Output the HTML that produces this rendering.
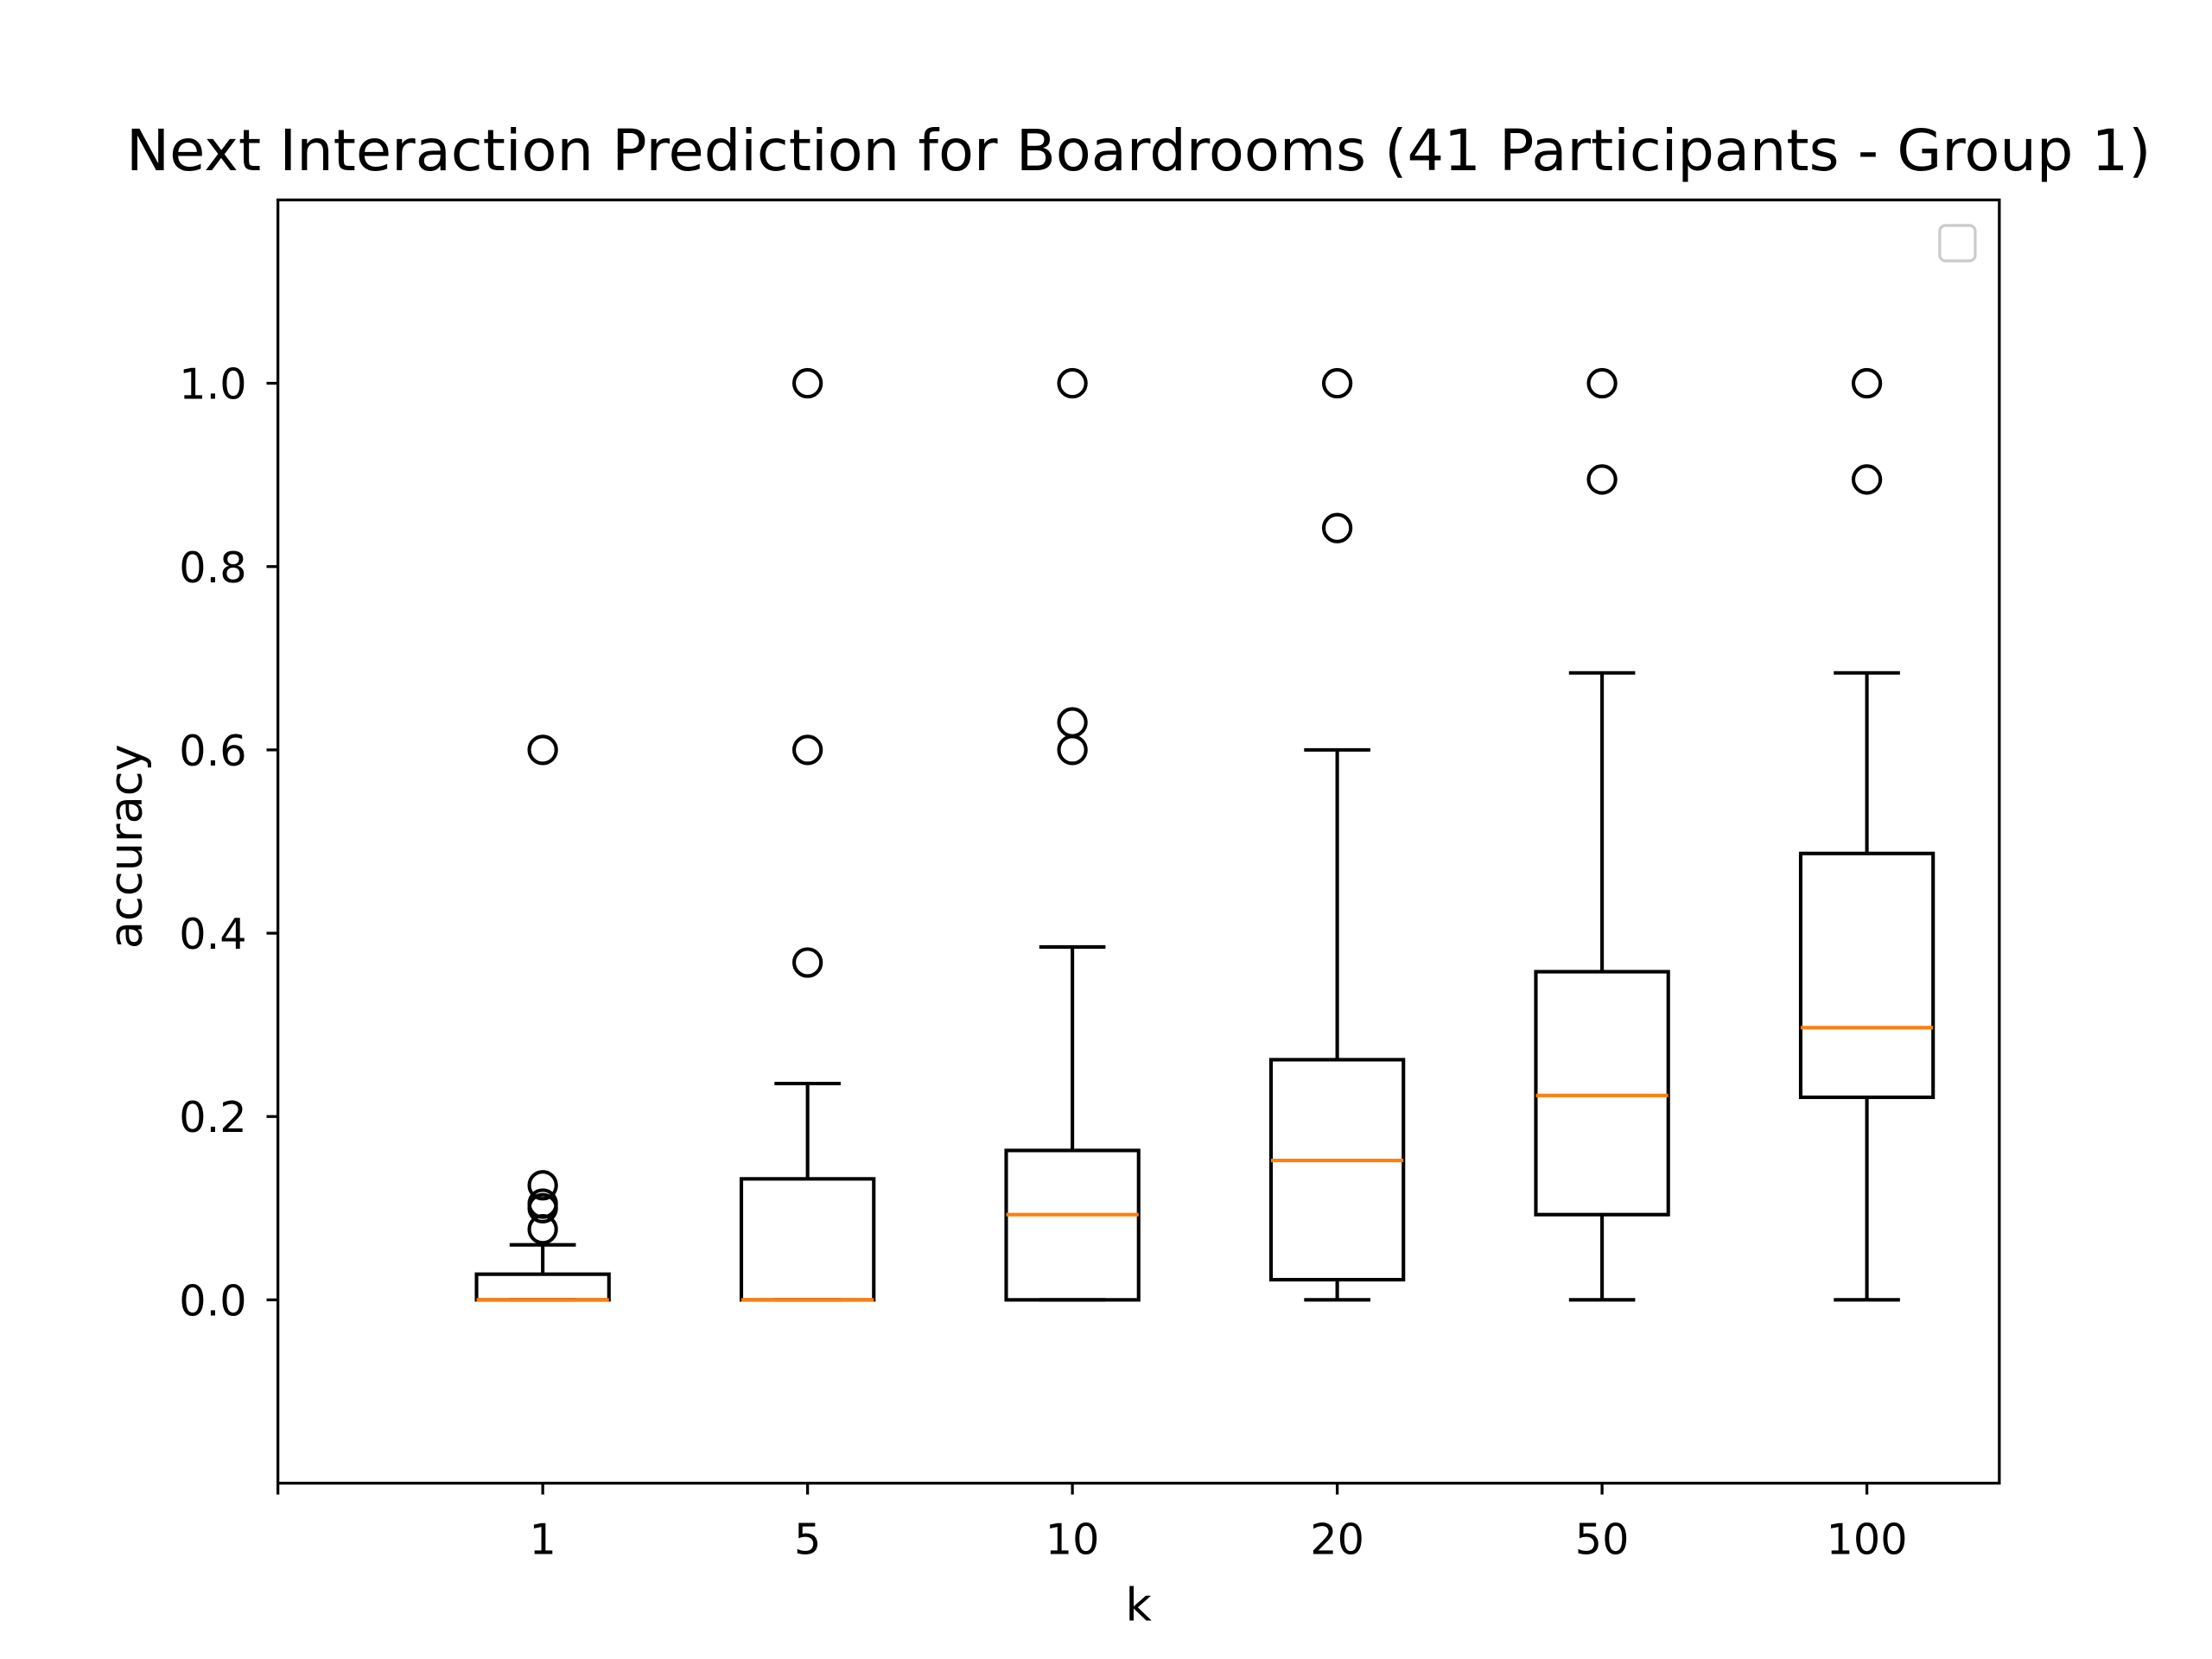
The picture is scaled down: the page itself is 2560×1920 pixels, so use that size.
<!DOCTYPE html>
<html><head><meta charset="utf-8"><style>html,body{margin:0;padding:0;background:#fff}svg{display:block}text{font-family:"DejaVu Sans","Liberation Sans",sans-serif}</style></head>
<body>
<svg width="2560" height="1920" viewBox="0 0 1560 1170" preserveAspectRatio="none" xmlns="http://www.w3.org/2000/svg">
<rect width="1560" height="1170" fill="#fff"/>
<text x="803" y="120" font-size="40" text-anchor="middle" textLength="1428" lengthAdjust="spacingAndGlyphs">Next Interaction Prediction for Boardrooms (41 Participants - Group 1)</text>
<g id="plot"></g>
<rect x="196" y="141" width="1214" height="905" fill="none" stroke="#000" stroke-width="2"/>
<rect x="1368" y="159" width="25" height="25" rx="4" fill="#fff" stroke="#ccc" stroke-width="2"/>
<text x="803" y="1143" font-size="32" text-anchor="middle">k</text>
<text x="0" y="0" font-size="32" text-anchor="middle" transform="translate(100,597) rotate(-90)">accuracy</text>
</svg>
<script>
const categories = ["1","5","10","20","50","100"];
const q1 = [0, 0, 0, 0.022, 0.093, 0.221];
const medians = [0, 0, 0.093, 0.152, 0.223, 0.297];
const q3 = [0.028, 0.132, 0.163, 0.262, 0.358, 0.487];
const whiskerLow = [0, 0, 0, 0, 0, 0];
const whiskerHigh = [0.06, 0.236, 0.385, 0.6, 0.684, 0.684];
const fliers = [[0.077,0.1,0.105,0.125,0.6],[0.368,0.6,1.0],[0.6,0.63,1.0],[0.842,1.0],[0.895,1.0],[0.895,1.0]];
const yTicks = [0, 0.2, 0.4, 0.6, 0.8, 1.0];
const yTickLabels = ["0.0","0.2","0.4","0.6","0.8","1.0"];

const NS = "http://www.w3.org/2000/svg";
const L=196,R=1410,T=141,B=1046, yMin=-0.2, yMax=1.2, xMin=0, xMax=6.5;
const xs = v => L + (v - xMin) / (xMax - xMin) * (R - L);
const ys = v => B - (v - yMin) / (yMax - yMin) * (B - T);
const g = document.getElementById('plot');
function mk(tag, attrs){const e=document.createElementNS(NS,tag);for(const k in attrs)e.setAttribute(k,attrs[k]);g.appendChild(e);return e;}
function line(x1,y1,x2,y2,c,w){return mk('line',{x1,y1,x2,y2,stroke:c||'#000','stroke-width':w||2.5});}

yTicks.forEach((v,i)=>{
  const t=line(196,ys(v),188,ys(v),'#000',2);
  
  
  const tx=mk('text',{x:174,y:ys(v)+11,'font-size':30,'text-anchor':'end'});
  tx.textContent=yTickLabels[i];
  
  
});
const t0=line(xs(0),B,xs(0),B+8,'#000',2);


categories.forEach((c,i)=>{
  const p=i+1, cx=xs(p);
  const t=line(cx,B,cx,B+8,'#000',2);
  
  
  const tx=mk('text',{x:cx,y:B+50,'font-size':30,'text-anchor':'middle'});
  tx.textContent=c;
  
  
  const bw=0.25, cw=0.125;
  const w1=line(cx,ys(q1[i]),cx,ys(whiskerLow[i]));
  
  
  const w2=line(cx,ys(q3[i]),cx,ys(whiskerHigh[i]));
  
  
  const c1=line(xs(p-cw),ys(whiskerLow[i]),xs(p+cw),ys(whiskerLow[i]));
  
  
  const c2=line(xs(p-cw),ys(whiskerHigh[i]),xs(p+cw),ys(whiskerHigh[i]));
  
  
  const b=mk('rect',{x:xs(p-bw),y:ys(q3[i]),width:xs(p+bw)-xs(p-bw),height:ys(q1[i])-ys(q3[i]),fill:'none',stroke:'#000','stroke-width':2.5});
  
  
  const m=line(xs(p-bw),ys(medians[i]),xs(p+bw),ys(medians[i]),'#ff7f0e',2.5);
  
  
  fliers[i].forEach(f=>{
    const o=mk('circle',{cx:cx,cy:ys(f),r:9.5,fill:'none',stroke:'#000','stroke-width':2.5});
    
    
  });
});
</script>
</body></html>
